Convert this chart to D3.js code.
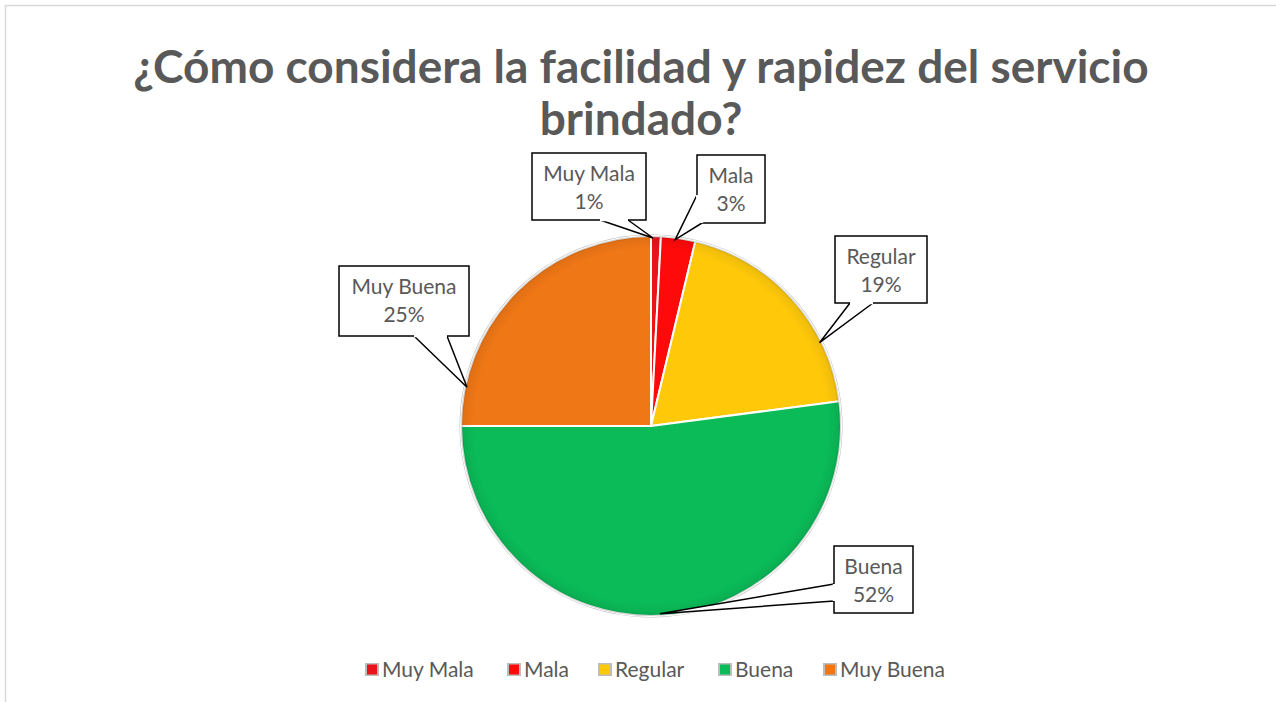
<!DOCTYPE html>
<html>
<head>
<meta charset="utf-8">
<script src="https://cdnjs.cloudflare.com/ajax/libs/d3/7.8.5/d3.min.js"></script>
<style>
  html, body { margin: 0; padding: 0; background: #fff; }
  svg { display: block; }
</style>
</head>
<body>
<div id="chart"></div>
<script>
// data (counts, shown as rounded percents)
const categories = ['Muy Mala', 'Mala', 'Regular', 'Buena', 'Muy Buena'];
const counts = [2, 7, 46, 125, 60];
const colors = ['#E8141A', '#FF0A0A', '#FFC90A', '#0ABB58', '#F07716'];

// callout boxes: [x, y, w, h], tail base on the box edge, tip angle (deg clockwise from top)
const callouts = [
  { box: [532, 153, 114, 67], base: [[600, 220], [628, 220]], tip: 0.6 },
  { box: [697, 155, 68, 68],  base: [[697, 195], [702, 223]], tip: 7.4 },
  { box: [835, 236, 92, 67],  base: [[850, 303], [873, 303]], tip: 63.7 },
  { box: [834, 546, 79, 67],  base: [[834, 584], [834, 601]], tip: 177.3 },
  { box: [339, 266, 130, 70], base: [[414, 336], [447, 336]], tip: 281.9 }
];

const legendX = [365, 507, 598, 718, 823];

const W = 1276, H = 702;
const cx = 651, cy = 426, R = 190;
const font = 'Lato, "Open Sans", sans-serif';

const svg = d3.select('#chart').append('svg')
  .attr('width', W)
  .attr('height', H);

const defs = svg.append('defs');
const shade = defs.append('radialGradient')
  .attr('id', 'shade')
  .attr('gradientUnits', 'userSpaceOnUse')
  .attr('cx', 0).attr('cy', 0).attr('r', R);
shade.append('stop').attr('offset', '0.93').attr('stop-color', '#000').attr('stop-opacity', 0);
shade.append('stop').attr('offset', '0.985').attr('stop-color', '#000').attr('stop-opacity', 0.06);
shade.append('stop').attr('offset', '1').attr('stop-color', '#000').attr('stop-opacity', 0.2);

const hi = defs.append('linearGradient')
  .attr('id', 'hi')
  .attr('x1', 0).attr('y1', 0).attr('x2', 0).attr('y2', 1);
hi.append('stop').attr('offset', '0').attr('stop-color', '#fff').attr('stop-opacity', 0.08);
hi.append('stop').attr('offset', '1').attr('stop-color', '#000').attr('stop-opacity', 0.03);

// chart area border
svg.append('rect')
  .attr('x', 5.5).attr('y', 5.5)
  .attr('width', W + 20).attr('height', H + 20)
  .attr('fill', 'none')
  .attr('stroke', '#d9d9d9')
  .attr('stroke-width', 1.5);

// title
const title = svg.append('text')
  .attr('text-anchor', 'middle')
  .attr('fill', '#595959')
  .attr('font-family', font)
  .attr('font-weight', 'bold')
  .attr('font-size', 46);
title.append('tspan').attr('x', 641).attr('y', 83)
  .text('¿Cómo considera la facilidad y rapidez del servicio');
title.append('tspan').attr('x', 641).attr('y', 135)
  .text('brindado?');

const total = d3.sum(counts);
const data = categories.map((c, i) => ({ name: c, value: counts[i], color: colors[i] }));

const pie = d3.pie().value(d => d.value).sort(null);
const arc = d3.arc().innerRadius(0).outerRadius(R);
const arcs = pie(data);

const g = svg.append('g').attr('transform', `translate(${cx},${cy})`);

// outer rim
g.append('circle')
  .attr('r', R + 1.5)
  .attr('fill', '#bdbdbd');

g.selectAll('path.slice')
  .data(arcs)
  .enter().append('path')
  .attr('class', 'slice')
  .attr('d', arc)
  .attr('fill', d => d.data.color)
  .attr('stroke', '#fff')
  .attr('stroke-width', 2)
  .attr('stroke-linejoin', 'round');

g.selectAll('path.shade')
  .data(arcs)
  .enter().append('path')
  .attr('class', 'shade')
  .attr('d', arc)
  .attr('fill', 'url(#shade)');

// callouts
const lab = svg.append('g')
  .attr('font-family', font)
  .attr('font-size', 21)
  .attr('fill', '#595959');

arcs.forEach((a, i) => {
  const c = callouts[i];
  const [bx, by, bw, bh] = c.box;
  const ang = c.tip * Math.PI / 180;
  const tip = [cx + Math.sin(ang) * (R - 2), cy - Math.cos(ang) * (R - 2)];
  lab.append('rect')
    .attr('x', bx).attr('y', by)
    .attr('width', bw).attr('height', bh)
    .attr('fill', '#fff')
    .attr('stroke', '#000')
    .attr('stroke-width', 1.5);
  lab.append('path')
    .attr('d', d3.line()([c.base[0], tip, c.base[1]]))
    .attr('fill', '#fff')
    .attr('stroke', '#000')
    .attr('stroke-width', 1.5)
    .attr('stroke-linejoin', 'miter');
  // open the box edge under the tail base
  lab.append('path')
    .attr('d', d3.line()([c.base[0], c.base[1]]))
    .attr('stroke', '#fff')
    .attr('stroke-width', 2.5)
    .attr('stroke-linecap', 'butt');
  const pct = Math.round(a.data.value / total * 100) + '%';
  const t = lab.append('text')
    .attr('text-anchor', 'middle');
  t.append('tspan').attr('x', bx + bw / 2).attr('y', by + 28).text(a.data.name);
  t.append('tspan').attr('x', bx + bw / 2).attr('y', by + 56).text(pct);
});

// legend
const leg = svg.append('g')
  .attr('font-family', font)
  .attr('font-size', 21)
  .attr('fill', '#595959');
data.forEach((d, i) => {
  const x = legendX[i];
  leg.append('rect')
    .attr('x', x).attr('y', 663)
    .attr('width', 14).attr('height', 13)
    .attr('fill', '#bdbdbd');
  leg.append('rect')
    .attr('x', x + 2).attr('y', 664.5)
    .attr('width', 10).attr('height', 10)
    .attr('fill', d.color);
  leg.append('text')
    .attr('x', x + 17).attr('y', 677)
    .text(d.name);
});
</script>
</body>
</html>
